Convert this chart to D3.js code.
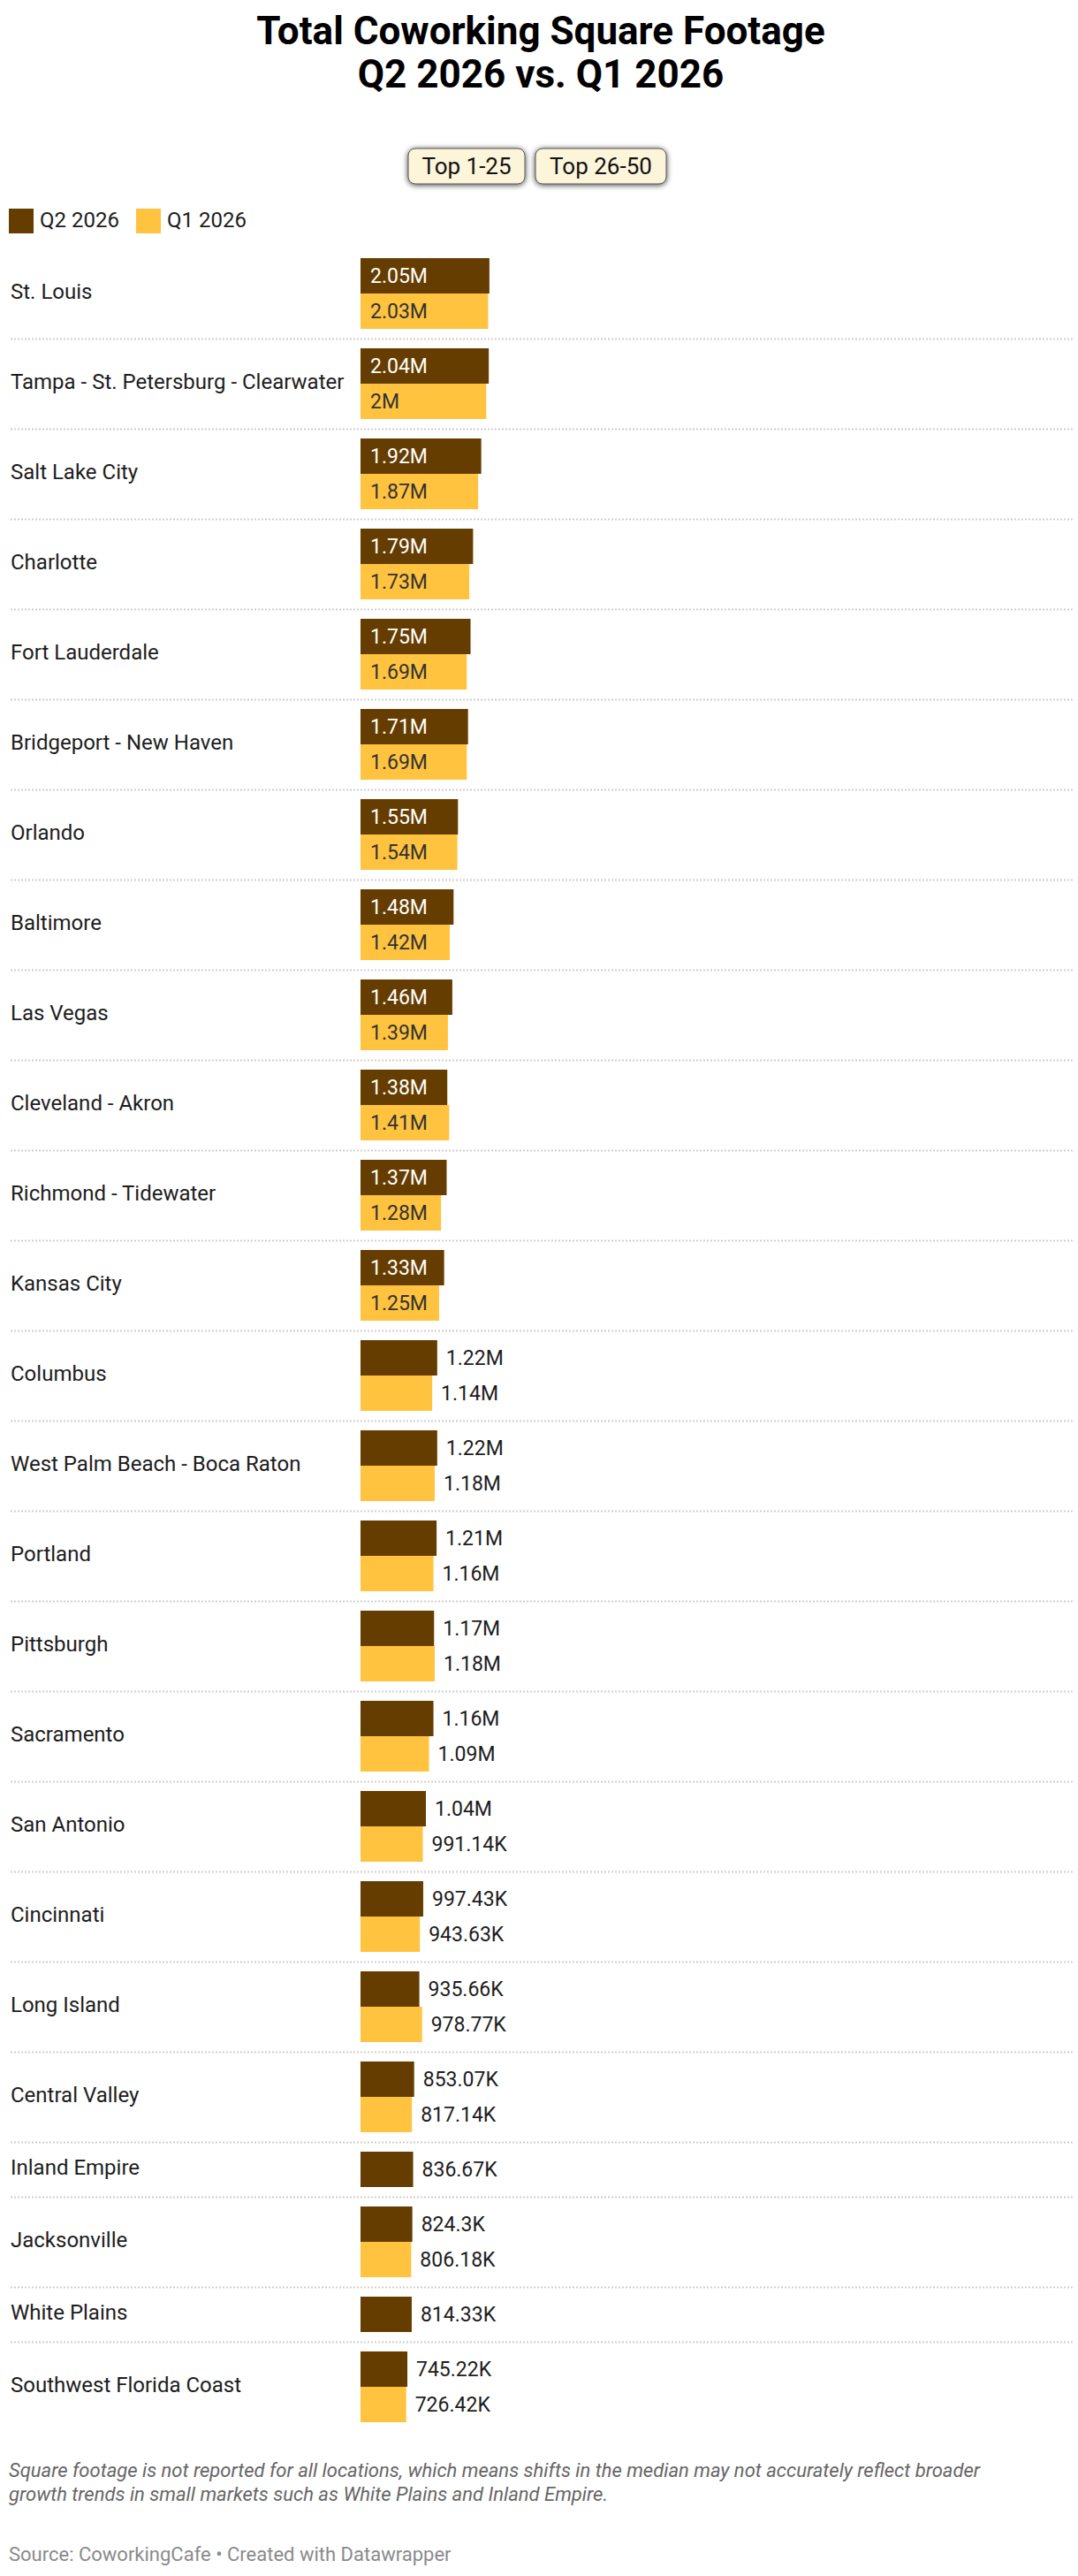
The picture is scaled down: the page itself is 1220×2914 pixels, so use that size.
<!DOCTYPE html>
<html>
<head>
<meta charset="utf-8">
<script src="https://cdn.jsdelivr.net/npm/d3@7"></script>
<style>
  body { margin: 0; background: #fff; }
  svg { display: block; font-family: Roboto, 'Noto Sans', sans-serif; }
</style>
</head>
<body>
<svg id="chart"></svg>
<script>
/* global d3 */

var titleLines = ['Total Coworking Square Footage', 'Q2 2026 vs. Q1 2026']
var tabLabels = ['Top 1-25', 'Top 26-50']
var seriesNames = ['Q2 2026', 'Q1 2026']
var seriesColors = ['#663d00', '#ffc33f']

var markets = [
  'St. Louis', 'Tampa - St. Petersburg - Clearwater', 'Salt Lake City', 'Charlotte',
  'Fort Lauderdale', 'Bridgeport - New Haven', 'Orlando', 'Baltimore', 'Las Vegas',
  'Cleveland - Akron', 'Richmond - Tidewater', 'Kansas City', 'Columbus',
  'West Palm Beach - Boca Raton', 'Portland', 'Pittsburgh', 'Sacramento', 'San Antonio',
  'Cincinnati', 'Long Island', 'Central Valley', 'Inland Empire', 'Jacksonville',
  'White Plains', 'Southwest Florida Coast'
]
var q2Values = [
  2050000, 2040000, 1920000, 1790000, 1750000, 1710000, 1550000, 1480000, 1460000,
  1380000, 1370000, 1330000, 1220000, 1220000, 1210000, 1170000, 1160000, 1040000,
  997430, 935660, 853070, 836670, 824300, 814330, 745220
]
var q1Values = [
  2030000, 2000000, 1870000, 1730000, 1690000, 1690000, 1540000, 1420000, 1390000,
  1410000, 1280000, 1250000, 1140000, 1180000, 1160000, 1180000, 1090000, 991140,
  943630, 978770, 817140, null, 806180, null, 726420
]

var noteLines = [
  'Square footage is not reported for all locations, which means shifts in the median may not accurately reflect broader',
  'growth trends in small markets such as White Plains and Inland Empire.'
]
var sourceText = 'Source: CoworkingCafe \u2022 Created with Datawrapper'

var width = 1220
var height = 2914
var barH = 40
var rowPad = 11
var firstRowTop = 281

var svg = d3.select('#chart')
  .attr('width', width)
  .attr('height', height)

var defs = svg.append('defs')
var shadow = defs.append('filter').attr('id', 'btnShadow')
  .attr('x', '-20%').attr('y', '-40%').attr('width', '140%').attr('height', '180%')
shadow.append('feDropShadow')
  .attr('dx', 0).attr('dy', 1).attr('stdDeviation', 3)
  .attr('flood-color', '#000').attr('flood-opacity', 0.75)

function fmt (v) {
  if (v >= 1e6) return (+(v / 1e6).toFixed(2)) + 'M'
  return (+(v / 1e3).toFixed(2)) + 'K'
}

// title
svg.append('g').selectAll('text')
  .data(titleLines)
  .join('text')
  .attr('x', 612)
  .attr('y', function (d, i) { return 50 + i * 49 })
  .attr('text-anchor', 'middle')
  .attr('font-size', 44)
  .attr('font-weight', 700)
  .attr('fill', '#000')
  .text(function (d) { return d })

// tab buttons
var tabX = [462, 606]
var tabW = [132, 148]
var tabs = svg.append('g').selectAll('g')
  .data(tabLabels)
  .join('g')
  .attr('transform', function (d, i) { return 'translate(' + tabX[i] + ',168)' })
tabs.append('rect')
  .attr('width', function (d, i) { return tabW[i] })
  .attr('height', 40)
  .attr('rx', 8)
  .attr('fill', '#fdf5da')
  .attr('stroke', '#555')
  .attr('stroke-width', 1)
  .attr('filter', 'url(#btnShadow)')
tabs.append('text')
  .attr('x', function (d, i) { return tabW[i] / 2 })
  .attr('y', 29)
  .attr('text-anchor', 'middle')
  .attr('font-size', 26)
  .attr('fill', '#111')
  .text(function (d) { return d })

// legend
var legendX = [10, 154]
var legend = svg.append('g').selectAll('g')
  .data(seriesNames)
  .join('g')
  .attr('transform', function (d, i) { return 'translate(' + legendX[i] + ',236)' })
legend.append('rect')
  .attr('width', 28).attr('height', 28)
  .attr('fill', function (d, i) { return seriesColors[i] })
legend.append('text')
  .attr('x', 35).attr('y', 21)
  .attr('font-size', 24)
  .attr('fill', '#1d1d1d')
  .text(function (d) { return d })

// rows
var rows = markets.map(function (m, i) {
  var vals = [
    { key: seriesNames[0], value: q2Values[i], color: seriesColors[0], dark: true },
    { key: seriesNames[1], value: q1Values[i], color: seriesColors[1], dark: false }
  ].filter(function (d) { return d.value != null })
  return { name: m, bars: vals }
})
var yPos = firstRowTop
rows.forEach(function (r) {
  r.top = yPos
  r.h = r.bars.length * barH + rowPad * 2
  yPos += r.h
})

var x = d3.scaleLinear()
  .domain([0, 11.2e6])
  .range([408, 1205])

var rowG = svg.append('g').selectAll('g')
  .data(rows)
  .join('g')
  .attr('transform', function (d) { return 'translate(0,' + d.top + ')' })

rowG.filter(function (d, i) { return i < rows.length - 1 })
  .append('line')
  .attr('x1', 12).attr('x2', 1216)
  .attr('y1', function (d) { return d.h + 0.5 })
  .attr('y2', function (d) { return d.h + 0.5 })
  .attr('stroke', '#cfcfcf')
  .attr('stroke-width', 2)
  .attr('stroke-dasharray', '2,2')

rowG.append('text')
  .attr('x', 12)
  .attr('y', function (d) { return d.h / 2 + 6 })
  .attr('font-size', 24)
  .attr('fill', '#1d1d1d')
  .text(function (d) { return d.name })

rowG.each(function (r) {
  var g = d3.select(this)
  var band = d3.scaleBand()
    .domain(r.bars.map(function (d) { return d.key }))
    .range([rowPad, rowPad + r.bars.length * barH])

  g.selectAll('rect.bar')
    .data(r.bars)
    .join('rect')
    .attr('class', 'bar')
    .attr('x', x(0))
    .attr('y', function (d) { return band(d.key) })
    .attr('width', function (d) { return x(d.value) - x(0) })
    .attr('height', band.bandwidth())
    .attr('fill', function (d) { return d.color })

  var labels = g.selectAll('text.val')
    .data(r.bars)
    .join('text')
    .attr('class', 'val')
    .attr('font-size', 23)
    .attr('y', function (d) { return band(d.key) + band.bandwidth() / 2 + 8 })
    .text(function (d) { return fmt(d.value) })

  // labels go inside only if every bar of the row can hold its label
  var fits = true
  labels.each(function (d) {
    if (this.getComputedTextLength() + 22 > x(d.value) - x(0)) fits = false
  })
  labels
    .attr('x', function (d) { return fits ? x(0) + 11 : x(d.value) + 10 })
    .attr('fill', function (d) {
      if (!fits) return '#1d1d1d'
      return d.dark ? '#fff' : '#333'
    })
})

// notes
svg.append('g').selectAll('text')
  .data(noteLines)
  .join('text')
  .attr('x', 10)
  .attr('y', function (d, i) { return 2802 + i * 27 })
  .attr('font-size', 22)
  .attr('font-style', 'italic')
  .attr('fill', '#666')
  .text(function (d) { return d })

svg.append('text')
  .attr('x', 10)
  .attr('y', 2897)
  .attr('font-size', 22)
  .attr('fill', '#8a8a8a')
  .text(sourceText)
</script>
</body>
</html>
